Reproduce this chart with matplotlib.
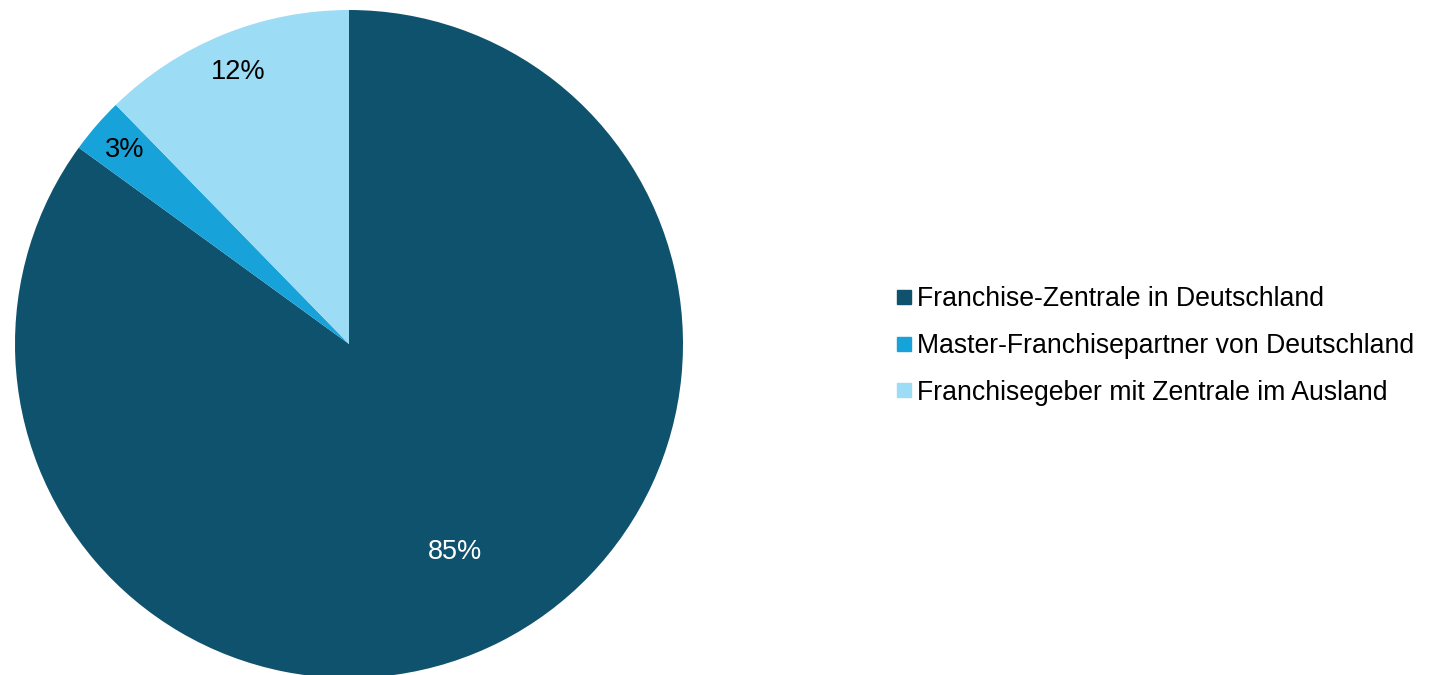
import matplotlib.pyplot as plt
import numpy as np
from matplotlib.lines import Line2D

plt.rcParams['font.family'] = ['Liberation Sans', 'DejaVu Sans']

# Daten
labels = ['Franchise-Zentrale in Deutschland',
          'Master-Franchisepartner von Deutschland',
          'Franchisegeber mit Zentrale im Ausland']
werte = [85.0, 2.7, 12.3]
farben = ['#0f526d', '#17a3d9', '#9ddcf5']
text_farben = ['white', 'black', 'black']
label_abstand = [0.7, 0.89, 0.88]

fig = plt.figure(figsize=(14.3, 6.75), dpi=100)

# Kreisdiagramm: Mittelpunkt (349, 344) px, Radius 334 px
ax = fig.add_axes([(349 - 334) / 1430, (675 - 344 - 334) / 675, 668 / 1430, 668 / 675])
wedges, _ = ax.pie(werte, colors=farben, startangle=90, counterclock=False,
                   radius=1, wedgeprops=dict(linewidth=0))
ax.set_xlim(-1, 1)
ax.set_ylim(-1, 1)
ax.set_aspect('equal')
ax.axis('off')

for w, v, c, d in zip(wedges, werte, text_farben, label_abstand):
    ang = np.deg2rad((w.theta1 + w.theta2) / 2)
    ax.text(d * np.cos(ang), d * np.sin(ang), f'{v:.0f}%', ha='center', va='center',
            fontsize=19.5, color=c)

# Legende
handles = [Line2D([], [], marker='s', linestyle='', markersize=10, color=f) for f in farben]
fig.legend(handles, labels, loc='center left', bbox_to_anchor=(896 / 1430, 1 - 346 / 675),
           frameon=False, fontsize=19.2, handlelength=0.6, handletextpad=0.2,
           labelspacing=0.78, borderpad=0, borderaxespad=0)

fig.savefig('out.png', dpi=100)
